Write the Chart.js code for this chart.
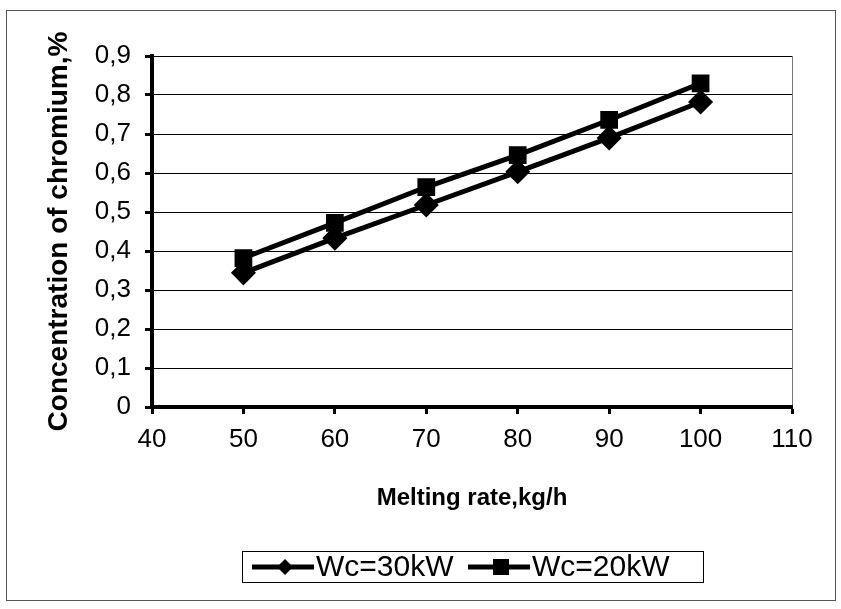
<!DOCTYPE html>
<html lang="en">
<head>
    <meta charset="UTF-8">
    <title>Concentration of chromium vs melting rate</title>
    <script src="https://cdn.jsdelivr.net/npm/chart.js"></script>
    <style>
        html, body { margin: 0; padding: 0; background: #fff; }
        #wrap { width: 841px; height: 609px; }
    </style>
</head>
<body>
    <div id="wrap"><canvas id="myChart" width="841" height="609"></canvas></div>
    <script>
        // Data
        const meltingRate = [50, 60, 70, 80, 90, 100];
        const wc30 = [0.344, 0.433, 0.518, 0.603, 0.69, 0.782];
        const wc20 = [0.382, 0.472, 0.564, 0.646, 0.736, 0.83];
        const seriesNames = ['Wc=30kW', 'Wc=20kW'];

        const FONT = '"Liberation Sans", Arial, sans-serif';

        // outer frame + legend box like the original Excel chart
        const framePlugin = {
            id: 'framePlugin',
            afterDraw: (chart) => {
                const ctx = chart.ctx;
                ctx.save();
                ctx.strokeStyle = '#555';
                ctx.lineWidth = 1;
                ctx.strokeRect(6.5, 10.5, 829, 590);

                // legend
                ctx.strokeStyle = '#000';
                ctx.strokeRect(242.5, 551.5, 461, 31);
                ctx.font = '30px ' + FONT;
                ctx.textBaseline = 'middle';
                ctx.fillStyle = '#000';
                const cy = 567;
                const items = [
                    { x: 252, style: 'diamond', label: seriesNames[0] },
                    { x: 468, style: 'square', label: seriesNames[1] }
                ];
                items.forEach((it) => {
                    ctx.lineWidth = 5;
                    ctx.beginPath();
                    ctx.moveTo(it.x, cy);
                    ctx.lineTo(it.x + 62, cy);
                    ctx.stroke();
                    const mx = it.x + 33;
                    ctx.beginPath();
                    if (it.style === 'diamond') {
                        ctx.moveTo(mx, cy - 8); ctx.lineTo(mx + 8, cy);
                        ctx.lineTo(mx, cy + 8); ctx.lineTo(mx - 8, cy);
                    } else {
                        ctx.rect(mx - 8, cy - 8, 16, 16);
                    }
                    ctx.closePath();
                    ctx.fill();
                    ctx.fillText(it.label, it.x + 64, cy + 1);
                });
                ctx.restore();
            }
        };

        const ctx = document.getElementById('myChart').getContext('2d');
        const chart = new Chart(ctx, {
            type: 'line',
            data: {
                labels: meltingRate,
                datasets: [{
                    label: seriesNames[0],
                    data: meltingRate.map((v, i) => ({ x: v, y: wc30[i] })),
                    borderColor: '#000',
                    backgroundColor: '#000',
                    borderWidth: 5,
                    pointStyle: 'rectRot',
                    pointRadius: 9,
                    pointHoverRadius: 9
                }, {
                    label: seriesNames[1],
                    data: meltingRate.map((v, i) => ({ x: v, y: wc20[i] })),
                    borderColor: '#000',
                    backgroundColor: '#000',
                    borderWidth: 5,
                    pointStyle: 'rect',
                    pointRadius: 9,
                    pointHoverRadius: 9
                }]
            },
            options: {
                responsive: false,
                animation: false,
                layout: { padding: { left: 42, top: 56, right: 49, bottom: 96 } },
                plugins: {
                    legend: { display: false },
                    tooltip: { enabled: false }
                },
                scales: {
                    x: {
                        type: 'linear',
                        min: 40,
                        max: 110,
                        ticks: {
                            stepSize: 10,
                            color: '#000',
                            font: { family: FONT, size: 26 },
                            padding: 10
                        },
                        grid: {
                            color: (c) => c.tick && c.tick.value === 110 ? '#777' : 'rgba(0,0,0,0)',
                            tickColor: '#000',
                            tickWidth: 3,
                            tickLength: 7
                        },
                        border: { color: '#000', width: 4 },
                        title: {
                            display: true,
                            text: 'Melting rate,kg/h',
                            color: '#000',
                            font: { family: FONT, size: 24, weight: 'bold' },
                            padding: { top: 0, bottom: 0 }
                        },
                        afterFit: (s) => { s.height = 106; }
                    },
                    y: {
                        min: 0,
                        max: 0.9,
                        ticks: {
                            stepSize: 0.1,
                            color: '#000',
                            font: { family: FONT, size: 26 },
                            padding: 14,
                            callback: (v) => (Math.round(v * 10) / 10).toString().replace('.', ',')
                        },
                        grid: {
                            color: '#000',
                            lineWidth: 1,
                            tickColor: '#000',
                            tickWidth: 3,
                            tickLength: 7
                        },
                        border: { color: '#000', width: 4 },
                        title: {
                            display: true,
                            text: 'Concentration of chromium,%',
                            color: '#000',
                            font: { family: FONT, size: 28, weight: 'bold' },
                            padding: { top: 0, bottom: 0 }
                        },
                        afterFit: (s) => { s.width = 110; }
                    }
                }
            },
            plugins: [framePlugin]
        });
    </script>
</body>
</html>
